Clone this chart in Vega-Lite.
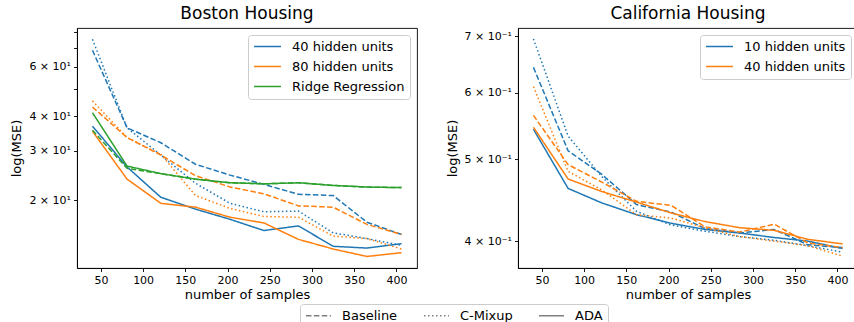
{
  "$schema": "https://vega.github.io/schema/vega-lite/v6.json",
  "padding": {"left": 10, "top": 4, "right": 0, "bottom": 0},
  "spacing": 27,
  "background": "white",
  "config": {
    "font": "DejaVu Sans",
    "view": {"stroke": "black", "strokeWidth": 0.9},
    "axis": {
      "grid": false,
      "domainColor": "black",
      "domainWidth": 0.9,
      "tickColor": "black",
      "tickWidth": 0.9,
      "tickSize": 3.5,
      "labelFont": "DejaVu Sans",
      "labelFontSize": 11,
      "labelColor": "black",
      "labelPadding": 3,
      "titleFont": "DejaVu Sans",
      "titleFontSize": 13,
      "titleFontWeight": "normal",
      "titleColor": "black"
    },
    "title": {"font": "DejaVu Sans", "fontSize": 17, "fontWeight": "normal", "color": "black", "frame": "group", "anchor": "middle", "offset": 5},
    "legend": {"labelFont": "DejaVu Sans", "labelColor": "black"},
    "line": {"strokeWidth": 1.5}
  },
  "datasets": {
    "boston": [
      {"units": "40 hidden units", "method": "Baseline", "n": 40, "mse": 68.7},
      {"units": "40 hidden units", "method": "Baseline", "n": 81, "mse": 36.3},
      {"units": "40 hidden units", "method": "Baseline", "n": 121, "mse": 32.1},
      {"units": "40 hidden units", "method": "Baseline", "n": 162, "mse": 26.9},
      {"units": "40 hidden units", "method": "Baseline", "n": 203, "mse": 24.6},
      {"units": "40 hidden units", "method": "Baseline", "n": 243, "mse": 22.8},
      {"units": "40 hidden units", "method": "Baseline", "n": 284, "mse": 21.0},
      {"units": "40 hidden units", "method": "Baseline", "n": 325, "mse": 20.8},
      {"units": "40 hidden units", "method": "Baseline", "n": 365, "mse": 16.7},
      {"units": "40 hidden units", "method": "Baseline", "n": 406, "mse": 15.1},
      {"units": "40 hidden units", "method": "C-Mixup", "n": 40, "mse": 75.2},
      {"units": "40 hidden units", "method": "C-Mixup", "n": 81, "mse": 36.3},
      {"units": "40 hidden units", "method": "C-Mixup", "n": 121, "mse": 29.0},
      {"units": "40 hidden units", "method": "C-Mixup", "n": 162, "mse": 23.0},
      {"units": "40 hidden units", "method": "C-Mixup", "n": 203, "mse": 19.5},
      {"units": "40 hidden units", "method": "C-Mixup", "n": 243, "mse": 18.2},
      {"units": "40 hidden units", "method": "C-Mixup", "n": 284, "mse": 18.3},
      {"units": "40 hidden units", "method": "C-Mixup", "n": 325, "mse": 15.3},
      {"units": "40 hidden units", "method": "C-Mixup", "n": 365, "mse": 14.6},
      {"units": "40 hidden units", "method": "C-Mixup", "n": 406, "mse": 13.8},
      {"units": "40 hidden units", "method": "ADA", "n": 40, "mse": 36.8},
      {"units": "40 hidden units", "method": "ADA", "n": 81, "mse": 26.3},
      {"units": "40 hidden units", "method": "ADA", "n": 121, "mse": 20.5},
      {"units": "40 hidden units", "method": "ADA", "n": 162, "mse": 18.6},
      {"units": "40 hidden units", "method": "ADA", "n": 203, "mse": 17.1},
      {"units": "40 hidden units", "method": "ADA", "n": 243, "mse": 15.6},
      {"units": "40 hidden units", "method": "ADA", "n": 284, "mse": 16.2},
      {"units": "40 hidden units", "method": "ADA", "n": 325, "mse": 13.7},
      {"units": "40 hidden units", "method": "ADA", "n": 365, "mse": 13.5},
      {"units": "40 hidden units", "method": "ADA", "n": 406, "mse": 14.0},
      {"units": "80 hidden units", "method": "Baseline", "n": 40, "mse": 43.1},
      {"units": "80 hidden units", "method": "Baseline", "n": 81, "mse": 33.5},
      {"units": "80 hidden units", "method": "Baseline", "n": 121, "mse": 29.0},
      {"units": "80 hidden units", "method": "Baseline", "n": 162, "mse": 24.5},
      {"units": "80 hidden units", "method": "Baseline", "n": 203, "mse": 22.3},
      {"units": "80 hidden units", "method": "Baseline", "n": 243, "mse": 21.1},
      {"units": "80 hidden units", "method": "Baseline", "n": 284, "mse": 19.1},
      {"units": "80 hidden units", "method": "Baseline", "n": 325, "mse": 18.9},
      {"units": "80 hidden units", "method": "Baseline", "n": 365, "mse": 16.4},
      {"units": "80 hidden units", "method": "Baseline", "n": 406, "mse": 15.1},
      {"units": "80 hidden units", "method": "C-Mixup", "n": 40, "mse": 45.3},
      {"units": "80 hidden units", "method": "C-Mixup", "n": 81, "mse": 33.5},
      {"units": "80 hidden units", "method": "C-Mixup", "n": 121, "mse": 29.2},
      {"units": "80 hidden units", "method": "C-Mixup", "n": 162, "mse": 20.8},
      {"units": "80 hidden units", "method": "C-Mixup", "n": 203, "mse": 18.7},
      {"units": "80 hidden units", "method": "C-Mixup", "n": 243, "mse": 17.5},
      {"units": "80 hidden units", "method": "C-Mixup", "n": 284, "mse": 17.4},
      {"units": "80 hidden units", "method": "C-Mixup", "n": 325, "mse": 14.9},
      {"units": "80 hidden units", "method": "C-Mixup", "n": 365, "mse": 14.6},
      {"units": "80 hidden units", "method": "C-Mixup", "n": 406, "mse": 13.4},
      {"units": "80 hidden units", "method": "ADA", "n": 40, "mse": 35.3},
      {"units": "80 hidden units", "method": "ADA", "n": 81, "mse": 23.8},
      {"units": "80 hidden units", "method": "ADA", "n": 121, "mse": 19.5},
      {"units": "80 hidden units", "method": "ADA", "n": 162, "mse": 18.9},
      {"units": "80 hidden units", "method": "ADA", "n": 203, "mse": 17.4},
      {"units": "80 hidden units", "method": "ADA", "n": 243, "mse": 16.6},
      {"units": "80 hidden units", "method": "ADA", "n": 284, "mse": 14.5},
      {"units": "80 hidden units", "method": "ADA", "n": 325, "mse": 13.4},
      {"units": "80 hidden units", "method": "ADA", "n": 365, "mse": 12.6},
      {"units": "80 hidden units", "method": "ADA", "n": 406, "mse": 13.0},
      {"units": "Ridge Regression", "method": "Baseline", "n": 40, "mse": 35.6},
      {"units": "Ridge Regression", "method": "Baseline", "n": 81, "mse": 26.0},
      {"units": "Ridge Regression", "method": "Baseline", "n": 121, "mse": 24.9},
      {"units": "Ridge Regression", "method": "Baseline", "n": 162, "mse": 23.8},
      {"units": "Ridge Regression", "method": "Baseline", "n": 203, "mse": 23.1},
      {"units": "Ridge Regression", "method": "Baseline", "n": 243, "mse": 22.9},
      {"units": "Ridge Regression", "method": "Baseline", "n": 284, "mse": 23.1},
      {"units": "Ridge Regression", "method": "Baseline", "n": 325, "mse": 22.6},
      {"units": "Ridge Regression", "method": "Baseline", "n": 365, "mse": 22.3},
      {"units": "Ridge Regression", "method": "Baseline", "n": 406, "mse": 22.2},
      {"units": "Ridge Regression", "method": "ADA", "n": 40, "mse": 41.1},
      {"units": "Ridge Regression", "method": "ADA", "n": 81, "mse": 26.5},
      {"units": "Ridge Regression", "method": "ADA", "n": 121, "mse": 24.9},
      {"units": "Ridge Regression", "method": "ADA", "n": 162, "mse": 23.8},
      {"units": "Ridge Regression", "method": "ADA", "n": 203, "mse": 23.1},
      {"units": "Ridge Regression", "method": "ADA", "n": 243, "mse": 22.9},
      {"units": "Ridge Regression", "method": "ADA", "n": 284, "mse": 23.1},
      {"units": "Ridge Regression", "method": "ADA", "n": 325, "mse": 22.6},
      {"units": "Ridge Regression", "method": "ADA", "n": 365, "mse": 22.3},
      {"units": "Ridge Regression", "method": "ADA", "n": 406, "mse": 22.2}
    ],
    "california": [
      {"units": "10 hidden units", "method": "Baseline", "n": 40, "mse": 0.643},
      {"units": "10 hidden units", "method": "Baseline", "n": 81, "mse": 0.512},
      {"units": "10 hidden units", "method": "Baseline", "n": 121, "mse": 0.480},
      {"units": "10 hidden units", "method": "Baseline", "n": 162, "mse": 0.442},
      {"units": "10 hidden units", "method": "Baseline", "n": 203, "mse": 0.433},
      {"units": "10 hidden units", "method": "Baseline", "n": 243, "mse": 0.414},
      {"units": "10 hidden units", "method": "Baseline", "n": 284, "mse": 0.409},
      {"units": "10 hidden units", "method": "Baseline", "n": 325, "mse": 0.413},
      {"units": "10 hidden units", "method": "Baseline", "n": 365, "mse": 0.396},
      {"units": "10 hidden units", "method": "Baseline", "n": 406, "mse": 0.393},
      {"units": "10 hidden units", "method": "C-Mixup", "n": 40, "mse": 0.695},
      {"units": "10 hidden units", "method": "C-Mixup", "n": 81, "mse": 0.533},
      {"units": "10 hidden units", "method": "C-Mixup", "n": 121, "mse": 0.477},
      {"units": "10 hidden units", "method": "C-Mixup", "n": 162, "mse": 0.434},
      {"units": "10 hidden units", "method": "C-Mixup", "n": 203, "mse": 0.418},
      {"units": "10 hidden units", "method": "C-Mixup", "n": 243, "mse": 0.411},
      {"units": "10 hidden units", "method": "C-Mixup", "n": 284, "mse": 0.405},
      {"units": "10 hidden units", "method": "C-Mixup", "n": 325, "mse": 0.401},
      {"units": "10 hidden units", "method": "C-Mixup", "n": 365, "mse": 0.395},
      {"units": "10 hidden units", "method": "C-Mixup", "n": 406, "mse": 0.388},
      {"units": "10 hidden units", "method": "ADA", "n": 40, "mse": 0.543},
      {"units": "10 hidden units", "method": "ADA", "n": 81, "mse": 0.462},
      {"units": "10 hidden units", "method": "ADA", "n": 121, "mse": 0.444},
      {"units": "10 hidden units", "method": "ADA", "n": 162, "mse": 0.430},
      {"units": "10 hidden units", "method": "ADA", "n": 203, "mse": 0.420},
      {"units": "10 hidden units", "method": "ADA", "n": 243, "mse": 0.413},
      {"units": "10 hidden units", "method": "ADA", "n": 284, "mse": 0.409},
      {"units": "10 hidden units", "method": "ADA", "n": 325, "mse": 0.404},
      {"units": "10 hidden units", "method": "ADA", "n": 365, "mse": 0.400},
      {"units": "10 hidden units", "method": "ADA", "n": 406, "mse": 0.392},
      {"units": "40 hidden units", "method": "Baseline", "n": 40, "mse": 0.564},
      {"units": "40 hidden units", "method": "Baseline", "n": 81, "mse": 0.493},
      {"units": "40 hidden units", "method": "Baseline", "n": 121, "mse": 0.470},
      {"units": "40 hidden units", "method": "Baseline", "n": 162, "mse": 0.446},
      {"units": "40 hidden units", "method": "Baseline", "n": 203, "mse": 0.441},
      {"units": "40 hidden units", "method": "Baseline", "n": 243, "mse": 0.416},
      {"units": "40 hidden units", "method": "Baseline", "n": 284, "mse": 0.410},
      {"units": "40 hidden units", "method": "Baseline", "n": 325, "mse": 0.419},
      {"units": "40 hidden units", "method": "Baseline", "n": 365, "mse": 0.398},
      {"units": "40 hidden units", "method": "Baseline", "n": 406, "mse": 0.393},
      {"units": "40 hidden units", "method": "C-Mixup", "n": 40, "mse": 0.610},
      {"units": "40 hidden units", "method": "C-Mixup", "n": 81, "mse": 0.484},
      {"units": "40 hidden units", "method": "C-Mixup", "n": 121, "mse": 0.460},
      {"units": "40 hidden units", "method": "C-Mixup", "n": 162, "mse": 0.430},
      {"units": "40 hidden units", "method": "C-Mixup", "n": 203, "mse": 0.426},
      {"units": "40 hidden units", "method": "C-Mixup", "n": 243, "mse": 0.415},
      {"units": "40 hidden units", "method": "C-Mixup", "n": 284, "mse": 0.405},
      {"units": "40 hidden units", "method": "C-Mixup", "n": 325, "mse": 0.400},
      {"units": "40 hidden units", "method": "C-Mixup", "n": 365, "mse": 0.395},
      {"units": "40 hidden units", "method": "C-Mixup", "n": 406, "mse": 0.384},
      {"units": "40 hidden units", "method": "ADA", "n": 40, "mse": 0.546},
      {"units": "40 hidden units", "method": "ADA", "n": 81, "mse": 0.474},
      {"units": "40 hidden units", "method": "ADA", "n": 121, "mse": 0.458},
      {"units": "40 hidden units", "method": "ADA", "n": 162, "mse": 0.445},
      {"units": "40 hidden units", "method": "ADA", "n": 203, "mse": 0.432},
      {"units": "40 hidden units", "method": "ADA", "n": 243, "mse": 0.422},
      {"units": "40 hidden units", "method": "ADA", "n": 284, "mse": 0.415},
      {"units": "40 hidden units", "method": "ADA", "n": 325, "mse": 0.412},
      {"units": "40 hidden units", "method": "ADA", "n": 365, "mse": 0.402},
      {"units": "40 hidden units", "method": "ADA", "n": 406, "mse": 0.397}
    ]
  },
  "resolve": {
    "scale": {"color": "independent", "strokeDash": "shared"},
    "legend": {"color": "independent", "strokeDash": "shared"}
  },
  "hconcat": [
    {
      "width": 340,
      "height": 240,
      "title": "Boston Housing",
      "data": {"name": "boston"},
      "mark": {"type": "line", "strokeWidth": 1.5},
      "encoding": {
        "x": {
          "field": "n", "type": "quantitative",
          "scale": {"domain": [21.7, 424.3], "nice": false, "zero": false},
          "axis": {"values": [50, 100, 150, 200, 250, 300, 350, 400], "title": "number of samples", "titlePadding": 3}
        },
        "y": {
          "field": "mse", "type": "quantitative",
          "scale": {"type": "log", "domain": [11.46, 82.5], "nice": false},
          "axis": {
            "values": [20, 30, 40, 50, 60, 70, 80],
            "labelExpr": "datum.value == 50 || datum.value == 70 || datum.value == 80 ? '' : format(datum.value / 10, '.0f') + ' × 10¹'",
            "title": "log(MSE)", "titlePadding": 5
          }
        },
        "color": {
          "field": "units", "type": "nominal",
          "scale": {"domain": ["40 hidden units", "80 hidden units", "Ridge Regression"], "range": ["#1f77b4", "#ff7f0e", "#2ca02c"]},
          "legend": {
            "title": null, "orient": "top-right", "offset": 7,
            "symbolType": "M-1,0H3.9", "symbolSize": 121, "symbolStrokeWidth": 1.5, "symbolFillColor": "transparent",
            "labelFontSize": 13, "labelOffset": 26, "rowPadding": 6,
            "strokeColor": "#cccccc", "fillColor": "white", "padding": 5, "cornerRadius": 3
          }
        },
        "strokeDash": {
          "field": "method", "type": "nominal",
          "scale": {"domain": ["Baseline", "C-Mixup", "ADA"], "range": [[5.5, 2.4], [1.5, 2.5], [1, 0]]},
          "legend": {
            "title": null, "orient": "none", "legendX": 223, "legendY": 276, "direction": "horizontal",
            "symbolType": "M-1,0H3.55", "symbolSize": 121, "symbolStrokeWidth": 1.5, "symbolStrokeColor": "gray", "symbolFillColor": "transparent",
            "labelFontSize": 13, "labelOffset": 24, "columnPadding": 23,
            "strokeColor": "#cccccc", "fillColor": "white", "padding": 5, "cornerRadius": 3
          }
        }
      }
    },
    {
      "width": 340,
      "height": 240,
      "title": "California Housing",
      "data": {"name": "california"},
      "mark": {"type": "line", "strokeWidth": 1.5},
      "encoding": {
        "x": {
          "field": "n", "type": "quantitative",
          "scale": {"domain": [21.7, 424.3], "nice": false, "zero": false},
          "axis": {"values": [50, 100, 150, 200, 250, 300, 350, 400], "title": "number of samples", "titlePadding": 3}
        },
        "y": {
          "field": "mse", "type": "quantitative",
          "scale": {"type": "log", "domain": [0.3717, 0.716], "nice": false},
          "axis": {
            "values": [0.4, 0.5, 0.6, 0.7],
            "labelExpr": "format(datum.value * 10, '.0f') + ' × 10⁻¹'",
            "title": "log(MSE)", "titlePadding": 5
          }
        },
        "color": {
          "field": "units", "type": "nominal",
          "scale": {"domain": ["10 hidden units", "40 hidden units"], "range": ["#1f77b4", "#ff7f0e"]},
          "legend": {
            "title": null, "orient": "top-right", "offset": 7,
            "symbolType": "M-1,0H3.9", "symbolSize": 121, "symbolStrokeWidth": 1.5, "symbolFillColor": "transparent",
            "labelFontSize": 13, "labelOffset": 26, "rowPadding": 6,
            "strokeColor": "#cccccc", "fillColor": "white", "padding": 5, "cornerRadius": 3
          }
        },
        "strokeDash": {
          "field": "method", "type": "nominal",
          "scale": {"domain": ["Baseline", "C-Mixup", "ADA"], "range": [[5.5, 2.4], [1.5, 2.5], [1, 0]]},
          "legend": {
            "title": null, "orient": "none", "legendX": 223, "legendY": 276, "direction": "horizontal",
            "symbolType": "M-1,0H3.55", "symbolSize": 121, "symbolStrokeWidth": 1.5, "symbolStrokeColor": "gray", "symbolFillColor": "transparent",
            "labelFontSize": 13, "labelOffset": 24, "columnPadding": 23,
            "strokeColor": "#cccccc", "fillColor": "white", "padding": 5, "cornerRadius": 3
          }
        }
      }
    }
  ]
}
